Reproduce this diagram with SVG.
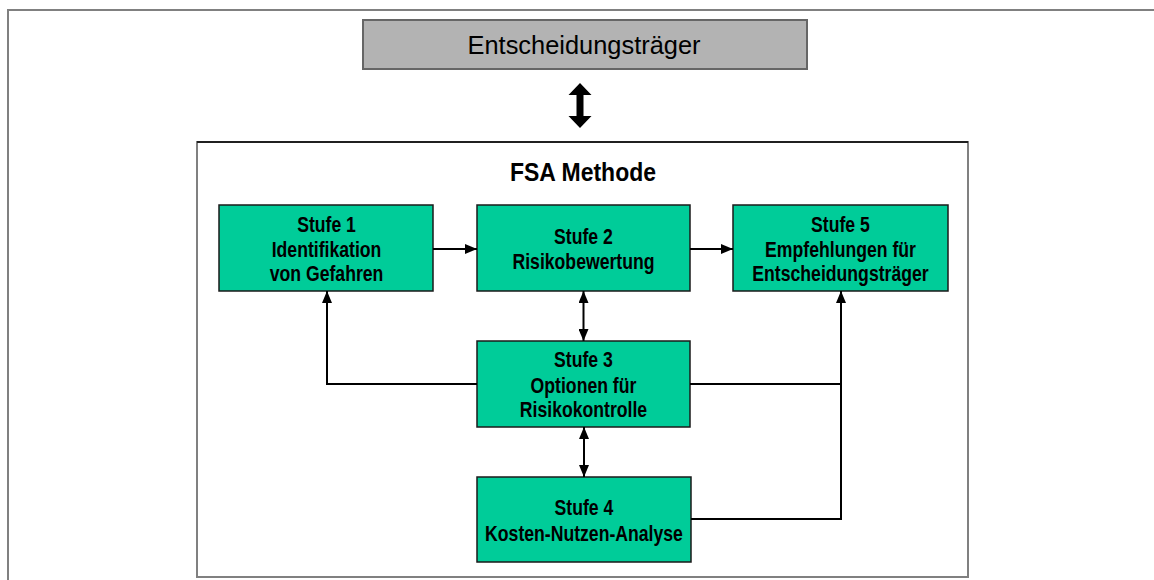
<svg xmlns="http://www.w3.org/2000/svg" width="1154" height="580" viewBox="0 0 1154 580">
  <style>
    .frame { fill: none; stroke: #808080; stroke-width: 2; }
    .stage { fill: #00cc99; stroke: #1a1a1a; stroke-width: 1.5; }
    .lbl { font-family: "Liberation Sans", Arial, sans-serif; font-weight: bold; font-size: 21.5px; fill: #000; text-anchor: middle; }
    .title { font-size: 25px; }
    .link { fill: none; stroke: #000; stroke-width: 2; }
  </style>
  <defs>
    <marker id="head" viewBox="0 0 12 10" refX="12" refY="5" markerWidth="12" markerHeight="10" markerUnits="userSpaceOnUse" orient="auto-start-reverse">
      <path d="M0,0 L12,5 L0,10 Z" fill="#000"/>
    </marker>
  </defs>

  <!-- page frame -->
  <path class="frame" d="M8,580 V10 H1154"/>

  <!-- decision makers -->
  <g id="entscheidungstraeger">
    <rect x="363" y="20" width="444" height="49" fill="#b3b3b3" stroke="#666" stroke-width="2"/>
    <text x="584" y="54" font-family="Liberation Sans, Arial, sans-serif" font-size="25" text-anchor="middle" textLength="233" lengthAdjust="spacingAndGlyphs">Entscheidungsträger</text>
  </g>

  <!-- thick two-way link between decision makers and method -->
  <path id="exchange" d="M580,83 L591.5,95 L583.5,95 L583.5,116 L591.5,116 L580,128 L568.5,116 L576.5,116 L576.5,95 L568.5,95 Z" fill="#000"/>

  <!-- method frame -->
  <g id="fsa-methode">
    <rect x="197" y="142" width="771" height="435" class="frame"/>
    <line x1="197" y1="142" x2="968" y2="142" stroke="#000" stroke-width="1.5"/>
    <text class="lbl title" x="583" y="181" textLength="146" lengthAdjust="spacingAndGlyphs">FSA Methode</text>
  </g>

  <!-- stage labels use a condensed face: horizontal squeeze about each box centre -->
  <g id="stufe1">
    <rect class="stage" x="219" y="205" width="214" height="86"/>
    <g transform="matrix(0.82,0,0,1,58.8,0)">
      <text class="lbl" x="326.5" y="232">Stufe 1</text>
      <text class="lbl" x="326.5" y="257">Identifikation</text>
      <text class="lbl" x="326.5" y="281">von Gefahren</text>
    </g>
  </g>

  <g id="stufe2">
    <rect class="stage" x="477" y="205" width="213" height="86"/>
    <g transform="matrix(0.82,0,0,1,105.03,0)">
      <text class="lbl" x="583.5" y="244">Stufe 2</text>
      <text class="lbl" x="583.5" y="269">Risikobewertung</text>
    </g>
  </g>

  <g id="stufe5">
    <rect class="stage" x="733" y="205" width="215" height="86"/>
    <g transform="matrix(0.82,0,0,1,151.29,0)">
      <text class="lbl" x="840.5" y="232">Stufe 5</text>
      <text class="lbl" x="840.5" y="257">Empfehlungen für</text>
      <text class="lbl" x="840.5" y="281">Entscheidungsträger</text>
    </g>
  </g>

  <g id="stufe3">
    <rect class="stage" x="477" y="341" width="213" height="86"/>
    <g transform="matrix(0.82,0,0,1,105.03,0)">
      <text class="lbl" x="583.5" y="367">Stufe 3</text>
      <text class="lbl" x="583.5" y="393">Optionen für</text>
      <text class="lbl" x="583.5" y="417">Risikokontrolle</text>
    </g>
  </g>

  <g id="stufe4">
    <rect class="stage" x="477" y="477" width="214" height="85"/>
    <g transform="matrix(0.82,0,0,1,105.12,0)">
      <text class="lbl" x="584" y="515">Stufe 4</text>
      <text class="lbl" x="584" y="541">Kosten-Nutzen-Analyse</text>
    </g>
  </g>

  <g id="connectors">
    <line class="link" x1="433" y1="249" x2="477" y2="249" marker-end="url(#head)"/>
    <line class="link" x1="690" y1="249" x2="733" y2="249" marker-end="url(#head)"/>
    <line class="link" x1="583.5" y1="291" x2="583.5" y2="341" marker-start="url(#head)" marker-end="url(#head)"/>
    <line class="link" x1="584" y1="427" x2="584" y2="477" marker-start="url(#head)" marker-end="url(#head)"/>
    <path class="link" d="M477,384 H327 V291" marker-end="url(#head)"/>
    <path class="link" d="M690,384 H841"/>
    <path class="link" d="M691,519 H841 V291" marker-end="url(#head)"/>
  </g>
</svg>
